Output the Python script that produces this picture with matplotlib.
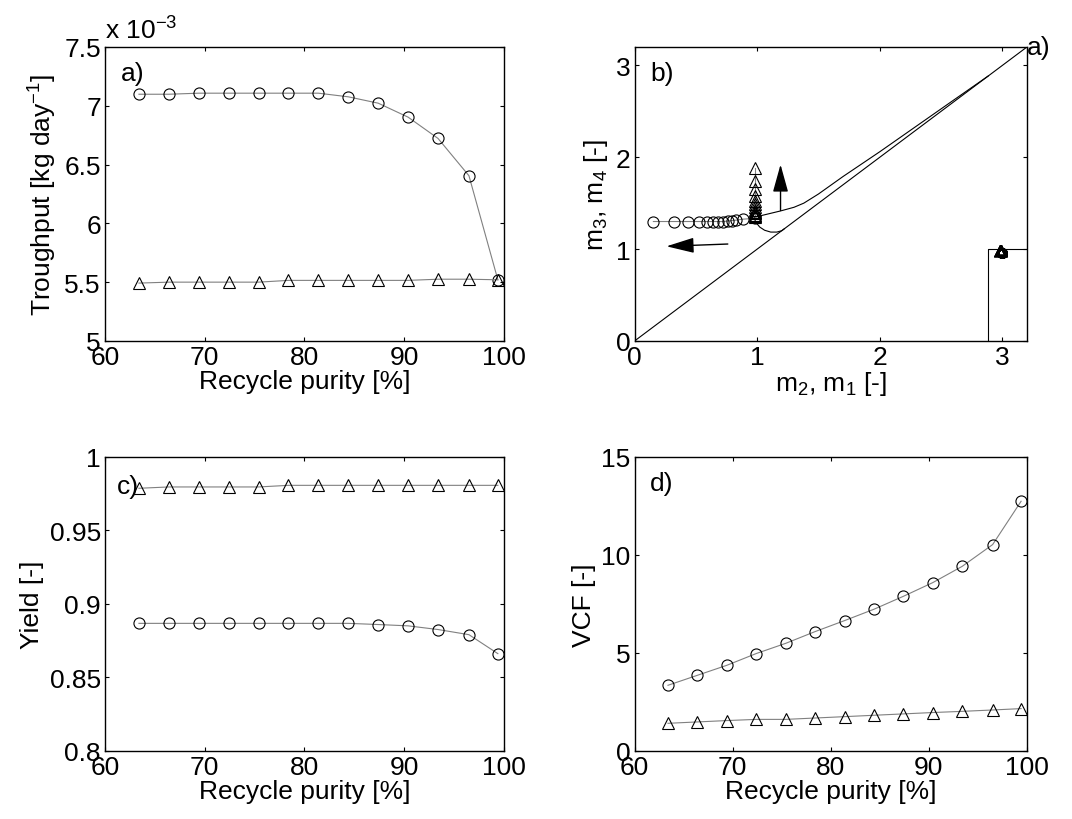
import matplotlib
matplotlib.use('Agg')
import matplotlib.pyplot as plt
import numpy as np

plt.rcParams['font.family'] = ['Liberation Sans', 'DejaVu Sans']
plt.rcParams['font.size'] = 19
plt.rcParams['mathtext.fontset'] = 'custom'
plt.rcParams['mathtext.rm'] = 'Liberation Sans'
plt.rcParams['mathtext.it'] = 'Liberation Sans'

# recycle purity [%] (x axis of panels a, c, d)
purity = [63.4, 66.4, 69.4, 72.4, 75.4, 78.4, 81.4, 84.4, 87.4, 90.4, 93.4, 96.5, 99.4]

# throughput in units of 1e-3 kg/day
thru_circ = [7.098, 7.098, 7.107, 7.107, 7.107, 7.107, 7.107, 7.076, 7.022, 6.903, 6.722, 6.405, 5.52]
thru_tri = [5.492, 5.50, 5.50, 5.50, 5.50, 5.515, 5.515, 5.515, 5.515, 5.515, 5.525, 5.525, 5.52]

yield_circ = [0.8868, 0.8868, 0.8868, 0.8868, 0.8868, 0.8868, 0.8868, 0.8868, 0.8860, 0.8851, 0.8826, 0.8791, 0.8662]
yield_tri = [0.9787, 0.9796, 0.9796, 0.9796, 0.9796, 0.9807, 0.9807, 0.9807, 0.9807, 0.9807, 0.9807, 0.9807, 0.9807]

vcf_circ = [3.35, 3.86, 4.37, 4.97, 5.49, 6.09, 6.65, 7.23, 7.89, 8.59, 9.42, 10.53, 12.74]
vcf_tri = [1.41, 1.48, 1.55, 1.61, 1.61, 1.68, 1.75, 1.82, 1.89, 1.96, 2.02, 2.09, 2.16]

# operating points, panel b
m2_circ = [0.153, 0.322, 0.432, 0.522, 0.590, 0.637, 0.678, 0.721, 0.760, 0.792, 0.828, 0.880, 0.978]
m3_circ = [1.30, 1.30, 1.30, 1.30, 1.30, 1.30, 1.30, 1.30, 1.305, 1.31, 1.315, 1.325, 1.335]
m2_tri = [0.978, 0.978, 0.978, 0.978, 0.978, 0.978, 0.978, 0.978, 0.978, 0.978, 0.978, 0.978, 0.978]
m3_tri = [1.344, 1.355, 1.370, 1.388, 1.406, 1.428, 1.453, 1.489, 1.525, 1.579, 1.652, 1.742, 1.887]
m1_circ = [3.0, 3.0, 3.0, 3.0, 3.0, 3.0, 3.0, 3.0, 3.0, 3.0, 3.0, 3.0, 3.0]
m4_circ = [0.955, 0.955, 0.955, 0.955, 0.955, 0.955, 0.955, 0.955, 0.955, 0.955, 0.955, 0.960, 0.962]
m1_tri = [2.99, 2.99, 2.99, 2.99, 2.99, 2.99, 2.99, 2.99, 2.99, 2.99, 2.99, 2.99, 2.99]
m4_tri = [0.975, 0.975, 0.975, 0.975, 0.975, 0.975, 0.975, 0.975, 0.975, 0.975, 0.975, 0.975, 0.975]

# separation region boundaries
upper_x = [0.975, 1.05, 1.19, 1.30, 1.38, 1.50, 1.70, 2.00, 2.30, 2.60, 2.885]
upper_y = [1.345, 1.37, 1.415, 1.455, 1.50, 1.60, 1.79, 2.06, 2.34, 2.62, 2.885]
lower_x = [0.975, 0.99, 1.02, 1.06, 1.11, 1.16, 1.20, 1.222]
lower_y = [1.335, 1.29, 1.24, 1.205, 1.185, 1.185, 1.20, 1.222]
diag_x = [0, 3.2]
diag_y = [0, 3.2]
m1_bound = [2.885, 2.885, 3.2]
m4_bound = [0.0, 1.0, 1.0]

grey = (0.5, 0.5, 0.5)
mk = dict(mfc='none', mec='k', mew=0.8, ms=8)


def style(ax):
    ax.tick_params(direction='in', length=3, width=0.8, top=True, right=True,
                   labelsize=19, pad=3)
    for s in ax.spines.values():
        s.set_linewidth(1.0)


def series(ax, x, yc, yt):
    ax.plot(x, yc, '-', color=grey, lw=0.8, marker='o', **mk)
    ax.plot(x, yt, '-', color=grey, lw=0.8, marker='^', **mk)


fig = plt.figure(figsize=(10.72, 8.2), dpi=100)
ax_a = fig.add_axes([0.098, 0.583, 0.372, 0.3585])
ax_b = fig.add_axes([0.592, 0.583, 0.366, 0.3585])
ax_c = fig.add_axes([0.098, 0.083, 0.372, 0.3585])
ax_d = fig.add_axes([0.592, 0.083, 0.366, 0.3585])

# a) throughput
series(ax_a, purity, thru_circ, thru_tri)
ax_a.set_xlim(60, 100)
ax_a.set_ylim(5, 7.5)
ax_a.set_xticks([60, 70, 80, 90, 100])
ax_a.set_yticks([5, 5.5, 6, 6.5, 7, 7.5])
ax_a.set_yticklabels(['5', '5.5', '6', '6.5', '7', '7.5'])
ax_a.set_xlabel('Recycle purity [%]', labelpad=0)
ax_a.set_ylabel('Troughput [kg day$^{-1}$]', labelpad=4)
ax_a.text(0.0, 1.01, 'x 10$^{-3}$', transform=ax_a.transAxes, ha='left', va='bottom')
ax_a.text(0.04, 0.91, 'a)', transform=ax_a.transAxes, ha='left', va='center')
style(ax_a)

# b) operating plane
ax_b.plot(diag_x, diag_y, '-', color='k', lw=0.8)
ax_b.plot(upper_x, upper_y, '-', color='k', lw=0.8)
ax_b.plot(lower_x, lower_y, '-', color='k', lw=0.8)
ax_b.plot(m1_bound, m4_bound, '-', color='k', lw=0.8)
ax_b.plot(m2_circ, m3_circ, '-', color=grey, lw=0.8, marker='o', **mk)
ax_b.plot(m2_tri, m3_tri, '-', color=grey, lw=0.8, marker='^', **mk)
ax_b.plot(m1_circ, m4_circ, '-', color=grey, lw=0.8, marker='o', mfc='none', mec='k', mew=1.6, ms=6)
ax_b.plot(m1_tri, m4_tri, '-', color=grey, lw=0.8, marker='^', mfc='none', mec='k', mew=1.6, ms=7)
ax_b.annotate('', xy=(0.26, 1.03), xytext=(0.76, 1.055),
              arrowprops=dict(arrowstyle='-|>,head_length=0.9,head_width=0.25', color='k', lw=1.0,
                              shrinkA=0, shrinkB=0))
ax_b.annotate('', xy=(1.19, 1.92), xytext=(1.19, 1.42),
              arrowprops=dict(arrowstyle='-|>,head_length=0.9,head_width=0.25', color='k', lw=1.0,
                              shrinkA=0, shrinkB=0))
ax_b.set_xlim(0, 3.2)
ax_b.set_ylim(0, 3.2)
ax_b.set_xticks([0, 1, 2, 3])
ax_b.set_yticks([0, 1, 2, 3])
ax_b.set_xlabel('m$_2$, m$_1$ [-]', labelpad=0)
ax_b.set_ylabel('m$_3$, m$_4$ [-]', labelpad=4)
ax_b.text(0.04, 0.91, 'b)', transform=ax_b.transAxes, ha='left', va='center')
ax_b.text(3.2, 3.2, 'a)', ha='left', va='center', clip_on=False)
style(ax_b)

# c) yield
series(ax_c, purity, yield_circ, yield_tri)
ax_c.set_xlim(60, 100)
ax_c.set_ylim(0.8, 1.0)
ax_c.set_xticks([60, 70, 80, 90, 100])
ax_c.set_yticks([0.8, 0.85, 0.9, 0.95, 1.0])
ax_c.set_yticklabels(['0.8', '0.85', '0.9', '0.95', '1'])
ax_c.set_xlabel('Recycle purity [%]', labelpad=0)
ax_c.set_ylabel('Yield [-]', labelpad=4)
ax_c.text(0.03, 0.90, 'c)', transform=ax_c.transAxes, ha='left', va='center')
style(ax_c)

# d) VCF
series(ax_d, purity, vcf_circ, vcf_tri)
ax_d.set_xlim(60, 100)
ax_d.set_ylim(0, 15)
ax_d.set_xticks([60, 70, 80, 90, 100])
ax_d.set_yticks([0, 5, 10, 15])
ax_d.set_xlabel('Recycle purity [%]', labelpad=0)
ax_d.set_ylabel('VCF [-]', labelpad=4)
ax_d.text(0.04, 0.91, 'd)', transform=ax_d.transAxes, ha='left', va='center')
style(ax_d)

fig.savefig('out.png', dpi=100)
